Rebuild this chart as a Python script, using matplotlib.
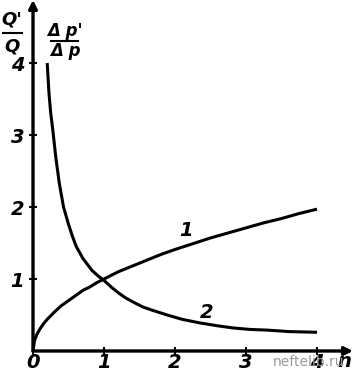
import matplotlib
matplotlib.use('Agg')
import matplotlib.pyplot as plt

# curve 1: Q'/Q vs n
n1 = [0, 0.02, 0.05, 0.1, 0.15, 0.2, 0.3, 0.4, 0.5, 0.6, 0.7, 0.8, 0.9, 1.0,
      1.2, 1.4, 1.6, 1.8, 2.0, 2.25, 2.5, 2.75, 3.0, 3.25, 3.5, 3.75, 4.0]
q1 = [0, 0.14, 0.22, 0.31, 0.38, 0.44, 0.54, 0.63, 0.7, 0.77, 0.84, 0.89, 0.95, 1.0,
      1.1, 1.18, 1.26, 1.34, 1.41, 1.49, 1.57, 1.64, 1.71, 1.78, 1.84, 1.91, 1.97]

# curve 2: dp'/dp vs n
n2 = [0.2, 0.225, 0.25, 0.28, 0.32, 0.37, 0.43, 0.5, 0.56, 0.61, 0.7, 0.83, 0.92, 1.0,
      1.1, 1.2, 1.3, 1.41, 1.55, 1.7, 1.89, 2.1, 2.35, 2.6, 2.82, 3.05, 3.3, 3.6, 4.0]
p2 = [4.0, 3.58, 3.3, 3.06, 2.7, 2.33, 2.0, 1.76, 1.58, 1.45, 1.29, 1.12, 1.04, 0.98,
      0.89, 0.81, 0.74, 0.68, 0.61, 0.56, 0.5, 0.44, 0.39, 0.35, 0.32, 0.3, 0.29, 0.27, 0.26]

xticks = [0, 1, 2, 3, 4]
yticks = [1, 2, 3, 4]

plt.rcParams['font.family'] = ['Liberation Sans Narrow', 'DejaVu Sans Condensed', 'DejaVu Sans']

W, H = 353, 376
fig = plt.figure(figsize=(W / 100, H / 100), dpi=100)
x0, y0 = 33, 351          # pixel position of origin
px_x, px_y = 71.0, 72.0   # pixels per unit
ax = fig.add_axes([x0 / W, (H - y0) / H, (W - x0) / W, y0 / H])
ax.set_xlim(0, (W - x0) / px_x)
ax.set_ylim(0, y0 / px_y)
for s in ax.spines.values():
    s.set_visible(False)

# axes with arrows
arr = dict(arrowstyle='-|>', lw=2.4, color='k', mutation_scale=12, shrinkA=0, shrinkB=0)
ax.annotate('', xy=((W - x0) / px_x, 0), xytext=(0, 0), arrowprops=arr, annotation_clip=False)
ax.annotate('', xy=(0, y0 / px_y), xytext=(0, 0), arrowprops=arr, annotation_clip=False)

ax.plot(n1, q1, color='k', lw=2.2, solid_capstyle='butt', solid_joinstyle='round')
ax.plot(n2, p2, color='k', lw=2.2, solid_capstyle='butt', solid_joinstyle='round')

ax.set_xticks(xticks)
ax.set_yticks(yticks)
ax.set_xticklabels([])
ax.set_yticklabels([])
ax.tick_params(direction='inout', length=6, width=1.5)

tfont = dict(fontsize=14, fontstyle='italic', fontweight='bold')
for v in xticks:
    ax.text(v, -0.16, str(v), ha='center', va='center', **tfont)
for v in yticks:
    ax.text(-0.22, v - 0.04, str(v), ha='center', va='center', **tfont)
ax.text(4.39, -0.14, 'n', ha='center', va='center', **tfont)

# axis labels as fractions
ax.text(-0.3, 4.6, "Q'", ha='center', va='center', fontsize=13, fontstyle='italic', fontweight='bold')
ax.plot([-0.42, -0.16], [4.42, 4.42], color='k', lw=1.5, clip_on=False)
ax.text(-0.3, 4.23, 'Q', ha='center', va='center', fontsize=13, fontstyle='italic', fontweight='bold')
ax.text(0.45, 4.45, "Δ p'", ha='center', va='center', fontsize=12, fontstyle='italic', fontweight='bold')
ax.plot([0.26, 0.64], [4.31, 4.31], color='k', lw=1.5)
ax.text(0.45, 4.16, 'Δ p', ha='center', va='center', fontsize=12, fontstyle='italic', fontweight='bold')

# curve labels
ax.text(2.15, 1.68, '1', ha='center', va='center', **tfont)
ax.text(2.45, 0.54, '2', ha='center', va='center', **tfont)

fig.text(308 / W, 1 - 362 / H, 'neftelib.ru', ha='center', va='center',
         fontsize=10, color='#999999', family='DejaVu Sans')

fig.savefig('out.png', dpi=100)
